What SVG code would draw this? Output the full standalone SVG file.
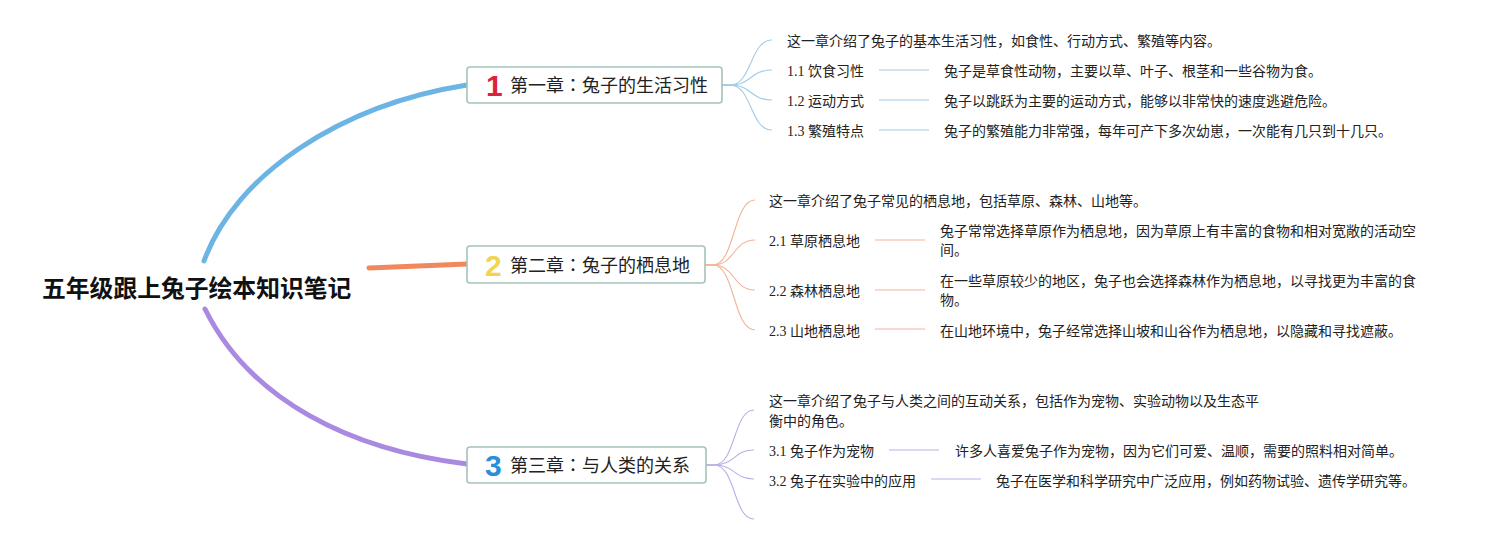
<svg xmlns="http://www.w3.org/2000/svg" width="1500" height="545" viewBox="0 0 1500 545">
<style>
.box{fill:#fff;stroke:#a3c4ba;stroke-width:1.6}
.title{font-family:"Noto Sans CJK SC","Liberation Sans",sans-serif;font-size:18px;fill:#222}
.colon{font-family:"Noto Sans CJK JP","Noto Sans CJK SC",sans-serif}
.num{font-family:"Liberation Sans","DejaVu Sans",sans-serif;font-size:30px;font-weight:bold}
.t{font-family:"Liberation Serif","Noto Sans CJK SC",serif;font-size:14px;fill:#222}
.d{font-family:"Noto Sans CJK SC","Liberation Sans",sans-serif;font-size:14px;fill:#222}
.main{fill:none;stroke-linecap:round;stroke-width:5}
.sub{fill:none;stroke-width:1.1}
.b{stroke:#9fcbe8}.o{stroke:#f2b396}.p{stroke:#bdaee8}
</style>
<rect width="1500" height="545" fill="#fff"/>
<g id="connectors">
<path class="main" stroke="#6cb4e4" d="M204,261 C235,175 340,105 467,85"/>
<path class="main" stroke="#f2875a" stroke-width="6" d="M369,268 L467,264"/>
<path class="main" stroke="#a98ae0" d="M205,309 C250,400 350,450 467,464"/>
<g class="sub b">
<path d="M722,85 H730 C752,85 750,40 772,40"/>
<path d="M722,85 H730 C752,85 750,70 772,70"/>
<path d="M722,85 H730 C752,85 750,100 772,100"/>
<path d="M722,85 H730 C752,85 750,130 772,130"/>
<path d="M879,70 H929"/><path d="M879,100 H929"/><path d="M879,130 H929"/>
</g>
<g class="sub o">
<path d="M705,265 H713 C735,265 733,200 755,200"/>
<path d="M705,265 H713 C735,265 733,240 755,240"/>
<path d="M705,265 H713 C735,265 733,290 755,290"/>
<path d="M705,265 H713 C735,265 733,330 755,330"/>
<path d="M875,240 H925"/><path d="M875,290 H925"/><path d="M875,329 H925"/>
</g>
<g class="sub p">
<path d="M706,465 H714 C736,465 733,410 754,410"/>
<path d="M706,465 H714 C736,465 733,450 754,450"/>
<path d="M706,465 H714 C736,465 733,479 754,479"/>
<path d="M706,465 H714 C736,465 733,519 754,519"/>
<path d="M889,450 H939"/><path d="M931,479 H981"/>
</g>
</g>
<g id="root">
<text x="42" y="297" font-family="'Noto Sans CJK SC','Liberation Sans',sans-serif" font-size="23.8" font-weight="bold" fill="#111">五年级跟上兔子绘本知识笔记</text>
</g>
<g id="ch1">
<rect class="box" x="467" y="67" width="255" height="36" rx="3"/>
<text class="num" x="486" y="96" fill="#e0213a">1</text>
<text class="title" x="510" y="92">第一章<tspan class="colon">：</tspan>兔子的生活习性</text>
</g>
<g id="ch1-items">
<text class="d" x="787" y="46">这一章介绍了兔子的基本生活习性，如食性、行动方式、繁殖等内容。</text>
<text class="t" x="787" y="76">1.1 饮食习性</text>
<text class="d" x="944" y="76">兔子是草食性动物，主要以草、叶子、根茎和一些谷物为食。</text>
<text class="t" x="787" y="106">1.2 运动方式</text>
<text class="d" x="944" y="106">兔子以跳跃为主要的运动方式，能够以非常快的速度逃避危险。</text>
<text class="t" x="787" y="136">1.3 繁殖特点</text>
<text class="d" x="944" y="136">兔子的繁殖能力非常强，每年可产下多次幼崽，一次能有几只到十几只。</text>
</g>
<g id="ch2">
<rect class="box" x="467" y="246" width="238" height="37" rx="3"/>
<text class="num" x="485" y="276" fill="#f2d54f">2</text>
<text class="title" x="510" y="272">第二章<tspan class="colon">：</tspan>兔子的栖息地</text>
</g>
<g id="ch2-items">
<text class="d" x="769" y="206">这一章介绍了兔子常见的栖息地，包括草原、森林、山地等。</text>
<text class="t" x="769" y="246">2.1 草原栖息地</text>
<text class="d" x="940" y="236">兔子常常选择草原作为栖息地，因为草原上有丰富的食物和相对宽敞的活动空</text>
<text class="d" x="940" y="255">间。</text>
<text class="t" x="769" y="296">2.2 森林栖息地</text>
<text class="d" x="940" y="286">在一些草原较少的地区，兔子也会选择森林作为栖息地，以寻找更为丰富的食</text>
<text class="d" x="940" y="305">物。</text>
<text class="t" x="769" y="336">2.3 山地栖息地</text>
<text class="d" x="940" y="336">在山地环境中，兔子经常选择山坡和山谷作为栖息地，以隐藏和寻找遮蔽。</text>
</g>
<g id="ch3">
<rect class="box" x="467" y="447" width="239" height="36" rx="3"/>
<text class="num" x="485" y="476" fill="#2b8fd8">3</text>
<text class="title" x="510" y="472">第三章<tspan class="colon">：</tspan>与人类的关系</text>
</g>
<g id="ch3-items">
<text class="d" x="769" y="406">这一章介绍了兔子与人类之间的互动关系，包括作为宠物、实验动物以及生态平</text>
<text class="d" x="769" y="426">衡中的角色。</text>
<text class="t" x="769" y="456">3.1 兔子作为宠物</text>
<text class="d" x="955" y="456">许多人喜爱兔子作为宠物，因为它们可爱、温顺，需要的照料相对简单。</text>
<text class="t" x="769" y="486">3.2 兔子在实验中的应用</text>
<text class="d" x="996" y="486">兔子在医学和科学研究中广泛应用，例如药物试验、遗传学研究等。</text>
</g>
</svg>
